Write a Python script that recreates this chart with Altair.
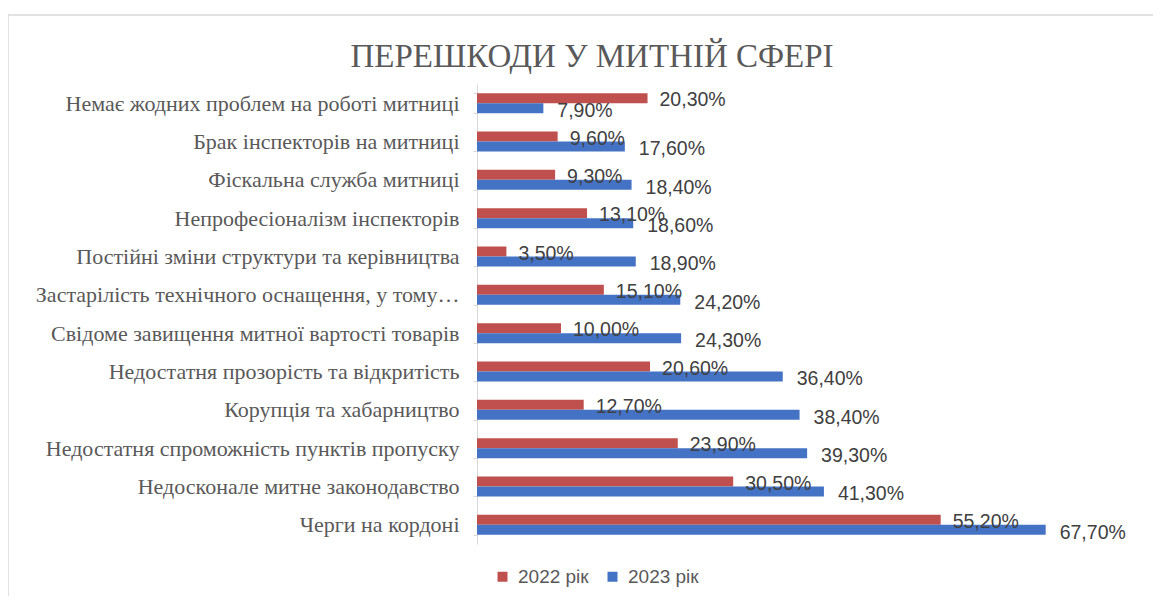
import altair as alt
import pandas as pd

title_text = "ПЕРЕШКОДИ У МИТНІЙ СФЕРІ"
categories = [
    "Немає жодних проблем на роботі митниці",
    "Брак інспекторів на митниці",
    "Фіскальна  служба митниці",
    "Непрофесіоналізм інспекторів",
    "Постійні зміни структури та керівництва",
    "Застарілість технічного оснащення, у тому…",
    "Свідоме завищення митної вартості товарів",
    "Недостатня прозорість та відкритість",
    "Корупція та хабарництво",
    "Недостатня спроможність пунктів  пропуску",
    "Недосконале митне законодавство",
    "Черги на кордоні",
]
years = ["2022 рік", "2023 рік"]
v2022 = [20.3, 9.6, 9.3, 13.1, 3.5, 15.1, 10.0, 20.6, 12.7, 23.9, 30.5, 55.2]
v2023 = [7.9, 17.6, 18.4, 18.6, 18.9, 24.2, 24.3, 36.4, 38.4, 39.3, 41.3, 67.7]
colors = ["#C0504D", "#4472C4"]

rows = []
for c, a, b in zip(categories, v2022, v2023):
    for y, v in zip(years, (a, b)):
        rows.append({"cat": c, "year": y, "value": v,
                     "label": f"{v:.2f}".replace(".", ",") + "%"})
df = pd.DataFrame(rows)

base = alt.Chart(df).encode(
    y=alt.Y("cat:N", sort=categories, title=None,
            scale=alt.Scale(paddingInner=0.48, paddingOuter=0.24),
            axis=alt.Axis(labelFont="Liberation Serif", labelFontSize=22,
                          labelColor="#595959", labelPadding=14, labelLimit=600,
                          domainColor="#d9d9d9", tickColor="#d9d9d9",
                          tickBand="extent", tickSize=4, ticks=True)),
    yOffset=alt.YOffset("year:N", sort=years),
)

bars = base.mark_bar(size=10).encode(
    x=alt.X("value:Q", scale=alt.Scale(domain=[0, 75], nice=False), axis=None),
    color=alt.Color("year:N", sort=years,
                    scale=alt.Scale(domain=years, range=colors),
                    legend=alt.Legend(title=None, orient="none", direction="horizontal",
                                      legendX=16, legendY=483,
                                      symbolType="square", symbolSize=100,
                                      symbolStrokeWidth=0,
                                      labelFont="Liberation Sans", labelFontSize=19,
                                      labelColor="#595959", columnPadding=14,
                                      labelOffset=6)),
)

text_red = base.transform_filter(alt.datum.year == years[0]).mark_text(
    align="left", baseline="middle", dx=12, dy=2,
    font="Liberation Sans", fontSize=19.5, color="#404040"
).encode(x="value:Q", text="label:N")

text_blue = base.transform_filter(alt.datum.year == years[1]).mark_text(
    align="left", baseline="middle", dx=14, dy=3,
    font="Liberation Sans", fontSize=19.5, color="#404040"
).encode(x="value:Q", text="label:N")

one = pd.DataFrame({"t": [title_text]})

border = alt.Chart(one).mark_rect(
    fillOpacity=0, stroke="#d9d9d9", strokeWidth=1.5
).encode(x=alt.value(-469), x2=alt.value(700),
         y=alt.value(-69), y2=alt.value(560))

title = alt.Chart(one).mark_text(
    font="Liberation Serif", fontSize=33, color="#595959",
    align="center", baseline="middle"
).encode(x=alt.value(115), y=alt.value(-27), text="t:N")

chart = alt.layer(border, bars, text_red, text_blue, title).properties(
    width=630, height=460,
    padding={"left": 469, "top": 76, "right": 46, "bottom": 52},
    autosize=alt.AutoSizeParams(type="none"),
).configure_view(stroke=None)

chart.save("out.html", embed_options={"renderer": "svg", "actions": False})
